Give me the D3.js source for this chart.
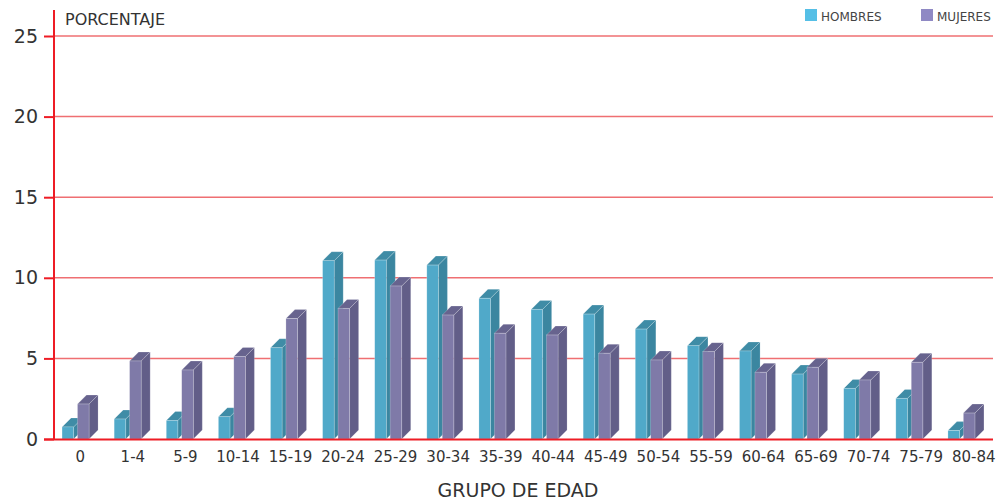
<!DOCTYPE html>
<html><head><meta charset="utf-8">
<script src="https://cdn.jsdelivr.net/npm/d3@7"></script>
<style>body{margin:0;background:#fff}svg{display:block}text{font-family:"DejaVu Sans",sans-serif}</style>
</head><body><svg id="c" width="1002" height="501"></svg>
<script>
const categories = ["0","1-4","5-9","10-14","15-19","20-24","25-29","30-34","35-39","40-44","45-49","50-54","55-59","60-64","65-69","70-74","75-79","80-84"];
const hombres = [0.75,1.24,1.15,1.38,5.66,11.06,11.1,10.79,8.73,8.04,7.75,6.82,5.79,5.46,4.03,3.14,2.52,0.52];
const mujeres = [2.17,4.84,4.28,5.12,7.47,8.1,9.49,7.69,6.56,6.45,5.32,4.9,5.42,4.14,4.45,3.66,4.76,1.61];
const yTicks = [0,5,10,15,20,25];
const seriesNames = ["HOMBRES","MUJERES"];

const svg = d3.select("#c");
const y = d3.scaleLinear().domain([0,25]).range([439,36]);
const xBar = d3.scaleBand().domain(categories).range([54,992]);
const xLab = d3.scaleBand().domain(categories).range([54,1000]);
const inner = d3.scaleBand().domain(seriesNames).range([-18,9]).paddingInner(0.25).paddingOuter(0);
const depth = 9;
const colors = {
  HOMBRES:{front:"#50a9c9", side:"#3b86a0", top:"#3f8ca6", swatch:"#55bfe6"},
  MUJERES:{front:"#7f7aa8", side:"#625e88", top:"#67638e", swatch:"#8f89c4"}
};

// gridlines
svg.append("g").selectAll("line").data(yTicks.filter(d=>d>0)).join("line")
  .attr("x1",54).attr("x2",993).attr("y1",d=>y(d)).attr("y2",d=>y(d))
  .attr("stroke","#ef6f72").attr("stroke-width",1.5);

// y axis
const yAxis = d3.axisLeft(y).tickValues(yTicks).tickSize(10).tickPadding(6);
const gy = svg.append("g").attr("transform","translate(54,0)").call(yAxis);
gy.select(".domain").remove();
gy.selectAll(".tick line").attr("stroke","#ee1c25").attr("stroke-width",2);
gy.selectAll(".tick text").attr("font-size",19).attr("fill","#333").attr("font-family","DejaVu Sans, sans-serif");

// bars
const data = [];
categories.forEach((c,i)=>{
  data.push({cat:c, s:"HOMBRES", v:hombres[i]});
  data.push({cat:c, s:"MUJERES", v:mujeres[i]});
});
const gb = svg.append("g");
data.forEach(d=>{
  const cx = xBar(d.cat)+xBar.bandwidth()/2;
  const x0 = cx + inner(d.s), w = inner.bandwidth();
  const y0 = y(0), y1 = y(d.v);
  const col = colors[d.s];
  const g = gb.append("g");
  g.append("polygon").attr("points",[[x0+w,y0],[x0+w+depth,y0-depth],[x0+w+depth,y1-depth],[x0+w,y1]].join(" "))
    .attr("fill",col.side).attr("stroke","rgba(255,255,255,0.25)").attr("stroke-width",0.6);
  g.append("polygon").attr("points",[[x0,y1],[x0+depth,y1-depth],[x0+w+depth,y1-depth],[x0+w,y1]].join(" "))
    .attr("fill",col.top).attr("stroke","rgba(255,255,255,0.35)").attr("stroke-width",0.6);
  g.append("rect").attr("x",x0).attr("y",y1).attr("width",w).attr("height",y0-y1)
    .attr("fill",col.front).attr("stroke","rgba(255,255,255,0.35)").attr("stroke-width",0.6);
});

// baseline & vertical axis
svg.append("line").attr("x1",44).attr("x2",993).attr("y1",y(0)+0.5).attr("y2",y(0)+0.5)
  .attr("stroke","#ee1c25").attr("stroke-width",2);
svg.append("line").attr("x1",54).attr("x2",54).attr("y1",10).attr("y2",y(0)+1)
  .attr("stroke","#ee1c25").attr("stroke-width",2);

// x labels
const xAxis = d3.axisBottom(xLab).tickSize(0).tickPadding(0);
const gx = svg.append("g").attr("transform","translate(0,448)").call(xAxis);
gx.select(".domain").remove();
gx.selectAll(".tick text").attr("font-size",15).attr("fill","#333").attr("dy","0.95em").attr("font-family","DejaVu Sans, sans-serif");

// titles
svg.append("text").attr("x",65).attr("y",25).attr("font-size",16).attr("fill","#333").text("PORCENTAJE");
svg.append("text").attr("x",518).attr("y",497).attr("text-anchor","middle").attr("font-size",19).attr("fill","#333").text("GRUPO DE EDAD");

// legend
const legX = {HOMBRES:805, MUJERES:921};
seriesNames.forEach(s=>{
  svg.append("rect").attr("x",legX[s]).attr("y",9).attr("width",12).attr("height",12).attr("fill",colors[s].swatch);
  svg.append("text").attr("x",legX[s]+16).attr("y",21).attr("font-size",12).attr("fill","#444").text(s);
});
</script></body></html>
